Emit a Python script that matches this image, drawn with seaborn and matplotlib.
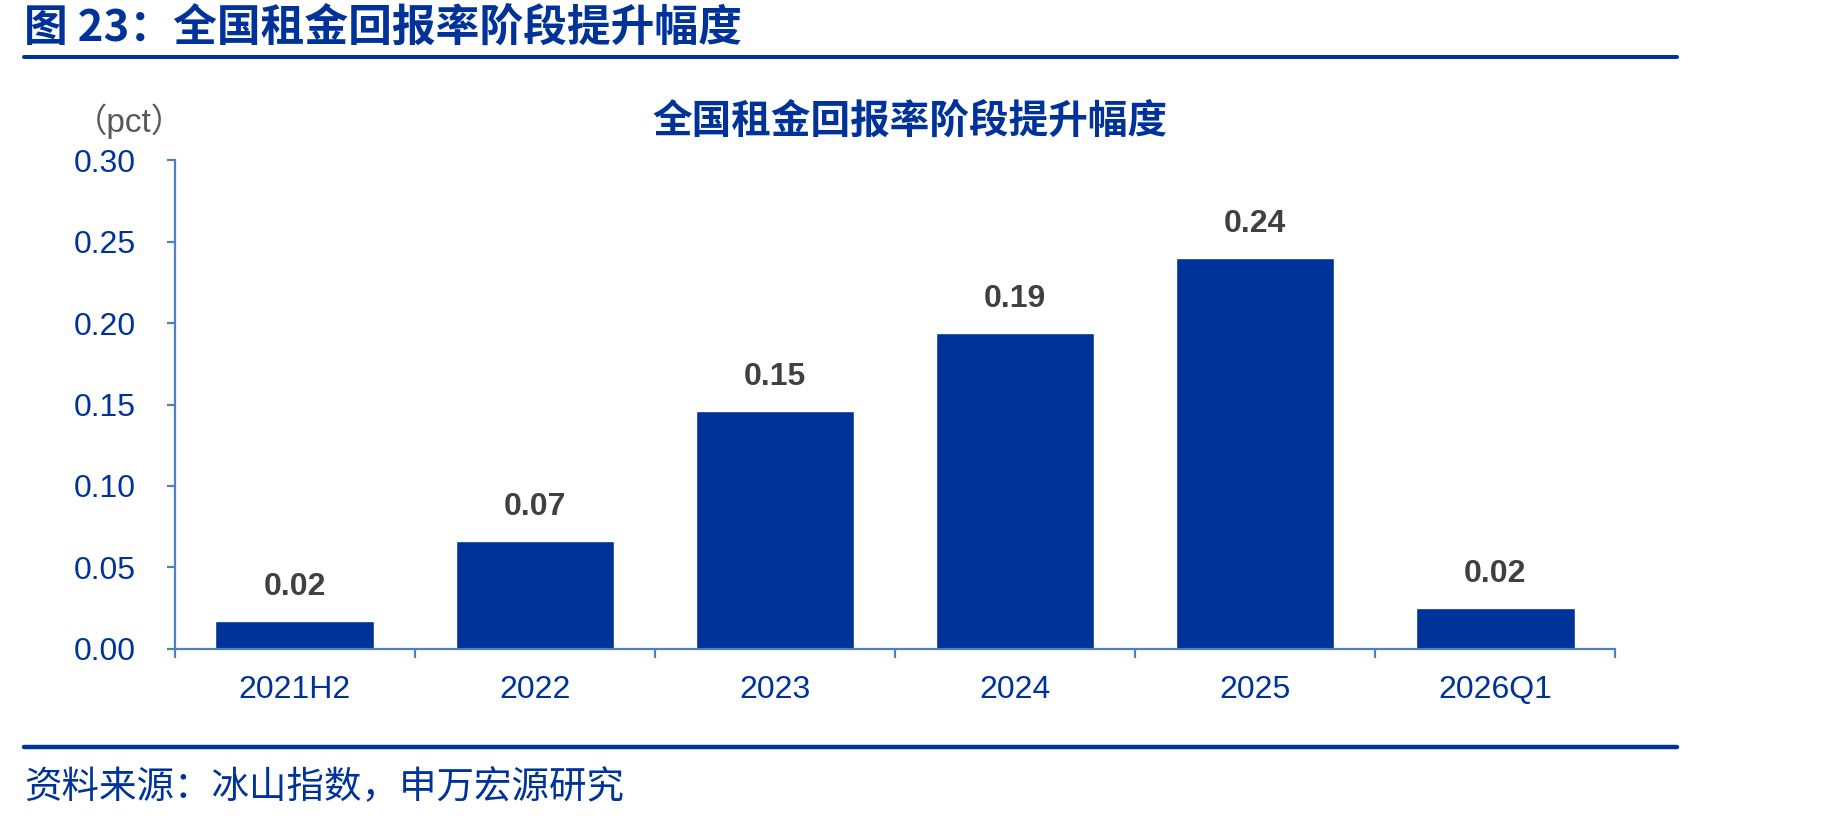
import numpy as np
import pandas as pd
import matplotlib
matplotlib.use('Agg')
import matplotlib.pyplot as plt
from matplotlib.lines import Line2D
from matplotlib.ticker import FixedLocator
import seaborn as sns

# 数据
categories = ['2021H2', '2022', '2023', '2024', '2025', '2026Q1']
values = [0.017, 0.066, 0.146, 0.194, 0.240, 0.025]
labels = ['0.02', '0.07', '0.15', '0.19', '0.24', '0.02']
yticks = [0.00, 0.05, 0.10, 0.15, 0.20, 0.25, 0.30]

header = '图 23：全国租金回报率阶段提升幅度'
chart_title = '全国租金回报率阶段提升幅度'
unit_text = '（pct）'
source_text = '资料来源：冰山指数，申万宏源研究'

navy = '#003399'
axis_blue = '#4F81BD'
label_grey = '#404040'

sns.set_theme(style='white')
plt.rcParams['font.family'] = ['Liberation Sans', 'Noto Sans CJK SC', 'DejaVu Sans']
cjk = ['Noto Sans CJK SC', 'DejaVu Sans']

fig = plt.figure(figsize=(18.49, 8.23), dpi=100)
ax = fig.add_axes([0.0944, 0.212, 0.7793, 0.593])

df = pd.DataFrame({'cat': categories, 'val': values})
sns.barplot(data=df, x='cat', y='val', color=navy, saturation=1, width=0.66, ax=ax)

ax.set_xlim(-0.5, len(categories) - 0.5)
ax.set_ylim(0, 0.30)
ax.set_yticks(yticks)
ax.set_yticklabels([f'{t:.2f}' for t in yticks])
ax.set_xlabel('')
ax.set_ylabel('')

# 坐标轴样式
for side in ['top', 'right']:
    ax.spines[side].set_visible(False)
for side in ['left', 'bottom']:
    ax.spines[side].set_color(axis_blue)
    ax.spines[side].set_linewidth(1.6)

ax.tick_params(axis='y', direction='out', length=6, width=1.6, color=axis_blue,
               labelcolor=navy, labelsize=23, pad=22, left=True)
ax.tick_params(axis='x', which='major', length=0, labelcolor=navy, labelsize=23, pad=19)
ax.xaxis.set_minor_locator(FixedLocator(np.arange(-0.5, len(categories), 1.0)))
ax.tick_params(axis='x', which='minor', direction='out', length=6.5, width=1.6,
               color=axis_blue, bottom=True)

# 数据标签
for i, (v, lab) in enumerate(zip(values, labels)):
    ax.annotate(lab, xy=(i, v), xytext=(0, 18.5), textcoords='offset points',
                ha='center', va='baseline', fontsize=23, fontweight='bold',
                color=label_grey)

# 标题、单位
fig.text(0.013, 0.966, header, ha='left', va='center', fontsize=31.5,
         fontweight='bold', color=navy, family=cjk)
fig.add_artist(Line2D([0.013, 0.907], [0.9305, 0.9305], transform=fig.transFigure,
                      color=navy, linewidth=2.9))
fig.text(0.492, 0.853, chart_title, ha='center', va='center', fontsize=28.5,
         fontweight='bold', color=navy, family=cjk)
fig.text(0.0698, 0.853, unit_text, ha='center', va='center', fontsize=24,
         color='#595959', family=['Liberation Sans', 'Noto Sans CJK SC'])

# 底部来源
fig.add_artist(Line2D([0.013, 0.907], [0.0923, 0.0923], transform=fig.transFigure,
                      color=navy, linewidth=3.2))
fig.text(0.013, 0.0425, source_text, ha='left', va='center', fontsize=27,
         color=navy, family=cjk)

fig.savefig('out.png', dpi=100)
plt.close(fig)
